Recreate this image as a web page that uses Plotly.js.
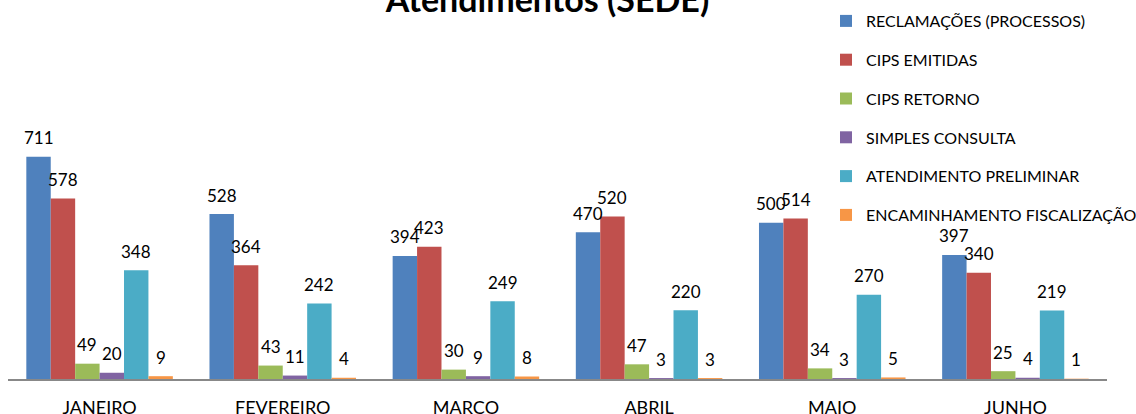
<!DOCTYPE html>
<html>
<head>
<meta charset="utf-8">
<script src="https://cdn.plot.ly/plotly-3.0.1.min.js"></script>
<style>html,body{margin:0;padding:0;background:#fff}#chart{width:1136px;height:414px}</style>
</head>
<body>
<div id="chart"></div>
<script>
const months = ["JANEIRO", "FEVEREIRO", "MARCO", "ABRIL", "MAIO", "JUNHO"];
const seriesNames = ["RECLAMAÇÕES (PROCESSOS)", "CIPS EMITIDAS", "CIPS RETORNO", "SIMPLES CONSULTA", "ATENDIMENTO PRELIMINAR", "ENCAMINHAMENTO FISCALIZAÇÃO"];
const reclamacoes = [711, 528, 394, 470, 500, 397];
const cipsEmitidas = [578, 364, 423, 520, 514, 340];
const cipsRetorno = [49, 43, 30, 47, 34, 25];
const simplesConsulta = [20, 11, 9, 3, 3, 4];
const atendimentoPreliminar = [348, 242, 249, 220, 270, 219];
const encaminhamento = [9, 4, 8, 3, 5, 1];
const colors = ["#4F81BD", "#C0504D", "#9BBB59", "#8064A2", "#4BACC6", "#F79646"];

const allValues = [reclamacoes, cipsEmitidas, cipsRetorno, simplesConsulta, atendimentoPreliminar, encaminhamento];
const FONT = "Lato, 'Open Sans', sans-serif";

const W = 1136, H = 414;
const mL = 8, mR = 29, mT = 129, mB = 35;
const plotW = W - mL - mR, plotH = H - mT - mB;
const BARGAP = 0.2;
const nSeries = allValues.length;
const barPx = plotW / months.length * (1 - BARGAP) / nSeries;

const traces = allValues.map((vals, i) => ({
  type: "bar",
  name: seriesNames[i],
  x: months,
  y: vals,
  marker: {color: colors[i]},
  legendgroup: "g" + i,
  hoverinfo: "x+y+name"
}));

// data labels above each bar, anchored at the bar's data value
const annotations = [];
allValues.forEach((vals, i) => {
  vals.forEach((v, j) => {
    annotations.push({
      x: months[j], y: v, xref: "x", yref: "y",
      text: String(v), showarrow: false,
      xanchor: "center", yanchor: "middle",
      xshift: (i - (nSeries - 1) / 2) * barPx,
      yshift: 19,
      font: {family: FONT, size: 17, color: "#000"}
    });
  });
});

const layout = {
  width: W,
  height: H,
  margin: {l: mL, r: mR, t: mT, b: mB, autoexpand: false},
  paper_bgcolor: "#fff",
  plot_bgcolor: "#fff",
  barmode: "group",
  bargap: BARGAP,
  bargroupgap: 0,
  title: {
    text: "<b>Atendimentos (SEDE)</b>",
    font: {family: FONT, size: 34, color: "#000"},
    xref: "container", yref: "container",
    x: 0.482, xanchor: "center",
    y: 1.0, yanchor: "middle"
  },
  xaxis: {
    showline: true, linecolor: "#888", linewidth: 2,
    ticks: "", ticklabelstandoff: 11,
    tickfont: {family: FONT, size: 18, color: "#000"},
    showgrid: false, zeroline: false
  },
  yaxis: {
    range: [0, 800], visible: false, showgrid: false, zeroline: false
  },
  annotations: annotations,
  showlegend: true,
  legend: {
    xref: "paper", yref: "paper",
    x: (826 - mL) / plotW, xanchor: "left",
    y: (H - mB - 4) / plotH, yanchor: "top",
    orientation: "v",
    traceorder: "grouped",
    tracegroupgap: 15,
    maxheight: 1,
    font: {family: FONT, size: 16, color: "#000"},
    bgcolor: "rgba(0,0,0,0)"
  }
};

Plotly.newPlot("chart", traces, layout, {displayModeBar: false, staticPlot: true});
</script>
</body>
</html>
